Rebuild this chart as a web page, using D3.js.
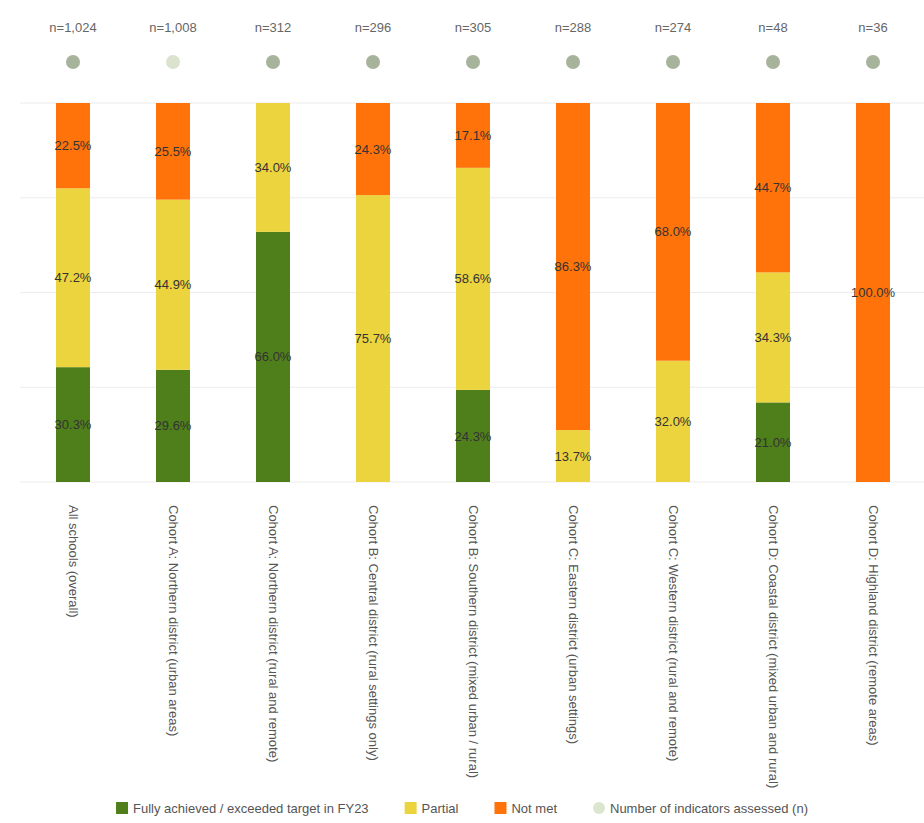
<!DOCTYPE html>
<html>
<head>
<meta charset="utf-8">
<script src="https://cdn.jsdelivr.net/npm/d3@7"></script>
<style>
  html, body { margin: 0; padding: 0; background: #fff; }
  svg { display: block; font-family: "Liberation Sans", Arial, sans-serif; }
</style>
</head>
<body>
<svg id="chart" width="924" height="823"></svg>
<script>
// Groups along the x axis
const categories = [
  "All schools (overall)",
  "Cohort A: Northern district (urban areas)",
  "Cohort A: Northern district (rural and remote)",
  "Cohort B: Central district (rural settings only)",
  "Cohort B: Southern district (mixed urban / rural)",
  "Cohort C: Eastern district (urban settings)",
  "Cohort C: Western district (rural and remote)",
  "Cohort D: Coastal district (mixed urban and rural)",
  "Cohort D: Highland district (remote areas)"
];

// Share of indicators per status (percent), stacked bottom to top
const achieved = [30.3, 29.6, 66.0, 0, 24.3, 0, 0, 21.0, 0];
const partial  = [47.2, 44.9, 34.0, 75.7, 58.6, 13.7, 32.0, 34.3, 0];
const notMet   = [22.5, 25.5, 0, 24.3, 17.1, 86.3, 68.0, 44.7, 100.0];

// Number of indicators assessed in each group
const counts = ["n=1,024", "n=1,008", "n=312", "n=296", "n=305", "n=288", "n=274", "n=48", "n=36"];
const countTone = ["#a7b39a", "#dbe3cf", "#a7b39a", "#a7b39a", "#a7b39a", "#a7b39a", "#a7b39a", "#a7b39a", "#a7b39a"];

const yTicks = [0, 25, 50, 75, 100];

const seriesNames = ["Fully achieved / exceeded target in FY23", "Partial", "Not met"];
const seriesColors = ["#4f7f1a", "#ecd43f", "#ff730a"];
const countLegend = "Number of indicators assessed (n)";

const svg = d3.select("#chart");

const x = d3.scaleBand()
  .domain(categories)
  .range([23, 923])
  .paddingInner(0.66)
  .paddingOuter(0.33);

const y = d3.scaleLinear().domain([0, 100]).range([482, 103]);

// Horizontal gridlines
svg.append("g")
  .selectAll("line")
  .data(yTicks)
  .join("line")
  .attr("x1", 20).attr("x2", 924)
  .attr("y1", d => y(d)).attr("y2", d => y(d))
  .attr("stroke", "#ececec")
  .attr("stroke-width", 1);

// Stacked layout
const rows = categories.map((c, i) => ({
  cat: c, achieved: achieved[i], partial: partial[i], notMet: notMet[i]
}));
const keys = ["achieved", "partial", "notMet"];
const stacked = d3.stack().keys(keys)(rows);

const layers = svg.append("g")
  .selectAll("g")
  .data(stacked)
  .join("g")
  .attr("fill", (d, i) => seriesColors[i]);

layers.selectAll("rect")
  .data(d => d)
  .join("rect")
  .attr("x", d => x(d.data.cat))
  .attr("width", x.bandwidth())
  .attr("y", d => y(d[1]))
  .attr("height", d => Math.max(0, y(d[0]) - y(d[1])));

// Value labels inside segments
const labelG = svg.append("g");
stacked.forEach(layer => {
  layer.forEach(d => {
    const v = d[1] - d[0];
    if (v <= 0) return;
    labelG.append("text")
      .attr("x", x(d.data.cat) + x.bandwidth() / 2)
      .attr("y", y((d[0] + d[1]) / 2))
      .attr("dy", "0.35em")
      .attr("text-anchor", "middle")
      .attr("font-size", 13)
      .attr("fill", "#333")
      .text(v.toFixed(1) + "%");
  });
});

// Counts across the top
const header = svg.append("g");
header.selectAll("text")
  .data(categories)
  .join("text")
  .attr("x", d => x(d) + x.bandwidth() / 2)
  .attr("y", 27)
  .attr("dy", "0.35em")
  .attr("text-anchor", "middle")
  .attr("font-size", 13)
  .attr("fill", "#666")
  .text((d, i) => counts[i]);

header.selectAll("circle")
  .data(categories)
  .join("circle")
  .attr("cx", d => x(d) + x.bandwidth() / 2)
  .attr("cy", 62)
  .attr("r", 7)
  .attr("fill", (d, i) => countTone[i]);

// Rotated category labels
svg.append("g")
  .selectAll("text")
  .data(categories)
  .join("text")
  .attr("transform", d => `translate(${x(d) + x.bandwidth() / 2 - 4},505) rotate(90)`)
  .attr("text-anchor", "start")
  .attr("font-size", 13)
  .attr("fill", "#555")
  .text(d => d);

// Legend
const legend = svg.append("g").attr("transform", "translate(0,808)");
const items = seriesNames.map((n, i) => ({ name: n, color: seriesColors[i], shape: "rect" }))
  .concat([{ name: countLegend, color: "#dbe6cf", shape: "circle" }]);

const gap = 36;
let cursor = 0;
items.forEach(it => {
  const g = legend.append("g").attr("transform", `translate(${cursor},0)`);
  if (it.shape === "rect") {
    g.append("rect").attr("x", 0).attr("y", -6).attr("width", 12).attr("height", 12).attr("fill", it.color);
  } else {
    g.append("circle").attr("cx", 6).attr("cy", 0).attr("r", 6).attr("fill", it.color);
  }
  const t = g.append("text").attr("x", 17).attr("dy", "0.35em")
    .attr("font-size", 13).attr("fill", "#555").text(it.name);
  const w = 17 + t.node().getComputedTextLength();
  cursor += w + gap;
});
const total = cursor - gap;
legend.attr("transform", `translate(${(924 - total) / 2},808)`);
</script>
</body>
</html>
